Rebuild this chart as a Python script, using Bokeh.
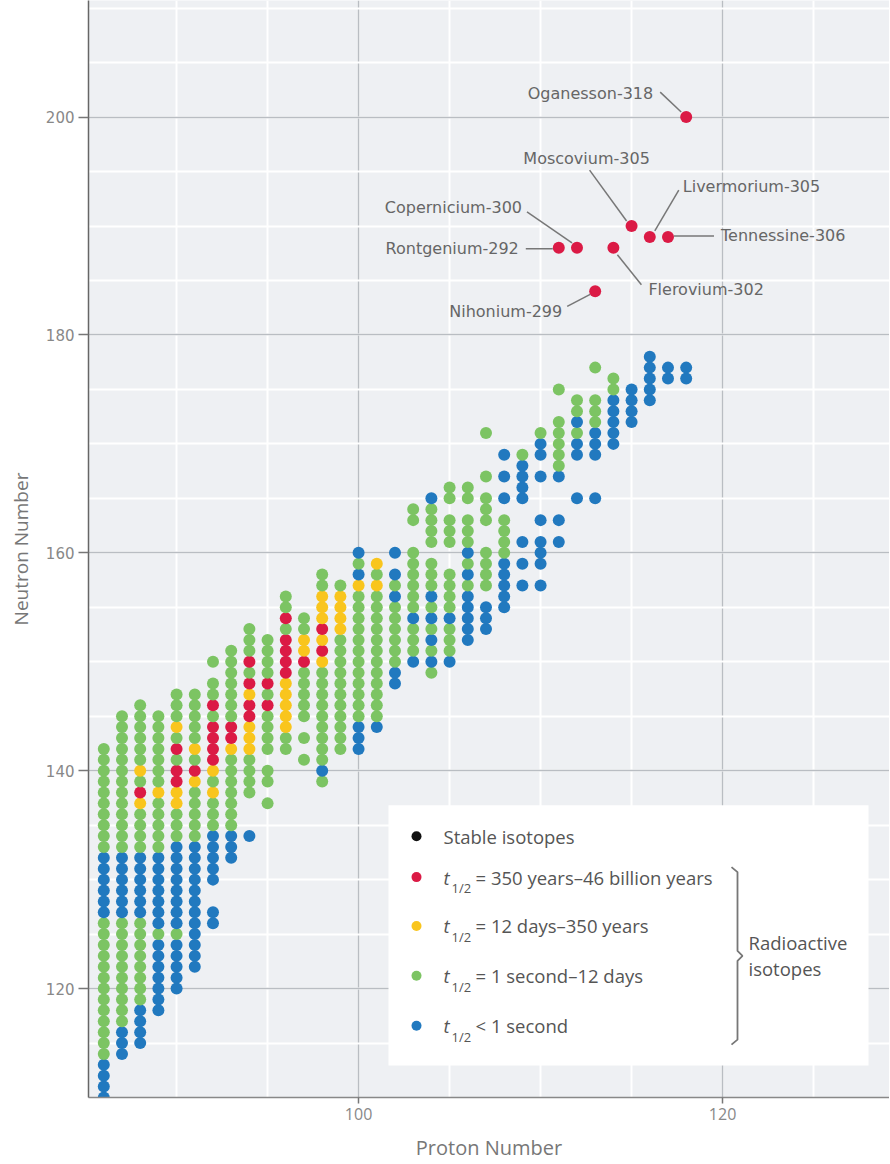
from bokeh.plotting import figure
from bokeh.models import Range1d, SingleIntervalTicker
from bokeh.core.properties import value
from bokeh.embed import file_html
from bokeh.resources import INLINE

# ---------------- data ----------------
# one column per proton number: first neutron number and a run-length code
# b = t1/2 < 1 s, g = 1 s-12 d, y = 12 d-350 y, r = 350 y-46 billion y, . = no isotope
proton = [86, 87, 88, 89, 90, 91, 92, 93, 94, 95, 96, 97, 98, 99, 100, 101, 102,
          103, 104, 105, 106, 107, 108, 109, 110, 111, 112, 113, 114, 115, 116, 117, 118]
n_start = [110, 114, 115, 118, 120, 122, 126, 132, 134, 137, 142, 141, 139, 142, 142, 144, 148,
           150, 149, 150, 152, 153, 155, 157, 157, 161, 165, 165, 170, 172, 174, 176, 176]
halflife_runs = [
    "4b 13g 6b 10g",
    "3b 10g 6b 13g",
    "4b 8g 6b 4g 1y 1r 1g 1y 6g",
    "7b 1g 7b 5g 1y 7g",
    "5b 1g 8b 3g 2y 2r 1g 1r 1g 1y 3g",
    "12b 5g 1y 1r 1g 1y 5g",
    "2b 2. 5b 3g 1y 1g 1y 4r 1g 1r 2g 1. 1g",
    "3b 7g 1y 2r 7g",
    "1b 3. 4g 3y 2r 1y 1r 1g 1r 3g",
    "1g 1. 2g 1. 4g 1r 1g 1r 4g",
    "2g 5y 4r 1g 1r 2g",
    "1g 1. 1g 1. 5g 1r 2y 2g",
    "1g 1b 9g 1y 1r 1y 1r 3y 2g",
    "11g 4y 1g",
    "3b 12g 1y 1b 1g 1b",
    "1b 12g 1y 1g 1y",
    "2b 6g 1b 1g 1b 1. 1b",
    "1b 3g 1b 6g 2. 2g",
    "1g 1b 1g 1b 1g 1b 1g 1b 3g 1. 4g 1b",
    "1b 3g 1b 4g 2. 3g 1. 2g",
    "5b 1g 1b 1g 1b 3g 1. 2g",
    "3b 1. 4g 2. 3g 1. 1g 3. 1g",
    "5b 4g 1. 1b 1. 1b 1. 1b",
    "1b 1. 1b 1. 1b 3. 4b 1g",
    "1b 1. 3b 1. 1b 3. 1b 1. 2b 1g",
    "1b 1. 1b 3. 1b 5g 2. 1g",
    "1b 3. 2b 1g 1b 2g",
    "1b 3. 3b 3g 2. 1g",
    "5b 2g",
    "4b",
    "5b",
    "2b",
    "2b",
]

# predicted super-heavy isotopes (labelled, red)
sh_proton = [118, 115, 116, 117, 112, 111, 114, 113]
sh_neutron = [200, 190, 189, 189, 188, 188, 188, 184]
sh_names = ["Oganesson-318", "Moscovium-305", "Livermorium-305", "Tennessine-306",
            "Copernicium-300", "Rontgenium-292", "Flerovium-302", "Nihonium-299"]

legend_texts = ["Stable isotopes", "= 350 years\u201346 billion years",
                "= 12 days\u2013350 years", "= 1 second\u201312 days", "< 1 second"]
bracket_texts = ["Radioactive", "isotopes"]

# ---------------- style / layout ----------------
COLORS = {"b": "#2179bf", "g": "#7cc463", "y": "#f9c51d", "r": "#db1a45", "k": "#111111"}
LEGEND_KEYS = ["k", "r", "y", "g", "b"]
BG = "#eef0f3"

W, H = 889, 1163
BL, BB = 88, 63
FW, FH = W - BL, H - BB
PXX = 18.2
X0 = 85.16
X1 = X0 + FW / PXX
Y0, Y1 = 110, 210.7
PXY = FH / (Y1 - Y0)


def px2x(px):
    return X0 + (px - BL) / PXX


def px2y(py):
    return Y1 - py / PXY


p = figure(width=W, height=H, x_range=Range1d(X0, X1), y_range=Range1d(Y0, Y1),
           output_backend="svg", toolbar_location=None,
           min_border_left=BL, min_border_right=0, min_border_top=0, min_border_bottom=BB,
           background_fill_color=BG, border_fill_color="white", outline_line_color=None)

for ax in (p.xaxis, p.yaxis):
    ax.ticker = SingleIntervalTicker(interval=20, num_minor_ticks=4)
    ax.minor_tick_line_color = None
    ax.major_tick_in = 0
    ax.axis_label_text_font_style = "normal"
    ax.axis_label_text_color = "#777777"
    ax.major_label_text_color = "#888888"
    ax.major_tick_line_color = "#777777"
    ax.major_tick_line_width = 1.5

p.yaxis.axis_line_color = "#666666"
p.yaxis.axis_line_width = 1.5
p.yaxis.major_tick_out = 10
p.yaxis.major_label_standoff = 4
p.yaxis.major_label_text_font = "DejaVu Sans"
p.yaxis.major_label_text_font_size = "15px"
p.yaxis.axis_label = "Neutron Number"
p.yaxis.axis_label_text_font = "Open Sans"
p.yaxis.axis_label_text_font_size = "19px"
p.yaxis.axis_label_standoff = 9

p.xaxis.axis_line_color = "#888888"
p.xaxis.axis_line_width = 1.5
p.xaxis.major_tick_out = 6
p.xaxis.major_label_standoff = 4
p.xaxis.major_label_text_font = "Open Sans"
p.xaxis.major_label_text_font_size = "16px"
p.xaxis.axis_label = "Proton Number"
p.xaxis.axis_label_text_font = "Open Sans"
p.xaxis.axis_label_text_font_size = "20px"
p.xaxis.axis_label_standoff = 11

for g in (p.xgrid, p.ygrid):
    g.grid_line_color = "#b9bdc2"
    g.grid_line_width = 1.5
    g.minor_grid_line_color = "white"
    g.minor_grid_line_width = 2

# ---------------- isotopes ----------------
xs, ys, cs = [], [], []
for z, n0, runs in zip(proton, n_start, halflife_runs):
    n = n0
    for tok in runs.split():
        count, code = int(tok[:-1]), tok[-1]
        for _ in range(count):
            if code != ".":
                xs.append(z)
                ys.append(n)
                cs.append(COLORS[code])
            n += 1
p.scatter(x=xs, y=ys, size=12, fill_color=cs, line_color=None)

p.scatter(x=sh_proton, y=sh_neutron, size=12, fill_color=COLORS["r"], line_color=None)

# label layout: text offset (px), alignment, leader start (px), leader end (px)
label_layout = [
    (-33, -24, "right", (-26, -25), (-5, -5)),
    (-45, -68, "center", (-42, -56), (-5, -5)),
    (33, -51, "left", (29, -47), (5, -6)),
    (53, -1, "left", (6, -1), (46, -1)),
    (-55, -40, "right", (-50, -36), (-5, -5)),
    (-40, 1, "right", (-33, 1), (-6, 1)),
    (35, 42, "left", (4, 7), (28, 37)),
    (-33, 20, "right", (-28, 15), (-5, 3)),
]
for z, n, name, (dx, dy, al, (sx0, sy0), (sx1, sy1)) in zip(sh_proton, sh_neutron, sh_names, label_layout):
    p.text(x=[z + dx / PXX], y=[n - dy / PXY], text=[name], text_align=al,
           text_baseline="middle", text_font=value("DejaVu Sans"),
           text_font_size="16px", text_color="#666666")
    p.segment(x0=[z + sx0 / PXX], y0=[n - sy0 / PXY], x1=[z + sx1 / PXX], y1=[n - sy1 / PXY],
              line_color="#777777", line_width=1.5)

# ---------------- legend ----------------
p.quad(left=[px2x(388)], right=[px2x(868)], top=[px2y(807)], bottom=[px2y(1068)],
       fill_color="white", line_color=None)
legend_rows_px = [838, 879, 928, 978, 1028]
for i, (key, txt, ry) in enumerate(zip(LEGEND_KEYS, legend_texts, legend_rows_px)):
    p.scatter(x=[px2x(416)], y=[px2y(ry)], size=10, fill_color=COLORS[key], line_color=None)
    if i == 0:
        p.text(x=[px2x(443)], y=[px2y(ry)], text=[txt], text_baseline="middle",
               text_font=value("Open Sans"), text_font_size="18.5px", text_color="#555555")
    else:
        p.text(x=[px2x(443)], y=[px2y(ry)], text=["t"], text_baseline="middle",
               text_font=value("Open Sans"), text_font_style="italic",
               text_font_size="18.5px", text_color="#555555")
        p.text(x=[px2x(451)], y=[px2y(ry + 11)], text=["1/2"], text_baseline="middle",
               text_font=value("Open Sans"), text_font_size="13px", text_color="#555555")
        p.text(x=[px2x(475)], y=[px2y(ry)], text=[txt], text_baseline="middle",
               text_font=value("Open Sans"), text_font_size="18.5px", text_color="#555555")

bx = [731, 737, 737, 742, 737, 737, 731]
by = [869, 874, 953, 958, 963, 1042, 1047]
p.line(x=[px2x(v) for v in bx], y=[px2y(v) for v in by], line_color="#777777", line_width=1.8)
for txt, ry in zip(bracket_texts, [945, 971]):
    p.text(x=[px2x(748)], y=[px2y(ry)], text=[txt], text_baseline="middle",
           text_font=value("Open Sans"), text_font_size="18.5px", text_color="#555555")

open("out.html", "w").write(file_html(p, INLINE))
